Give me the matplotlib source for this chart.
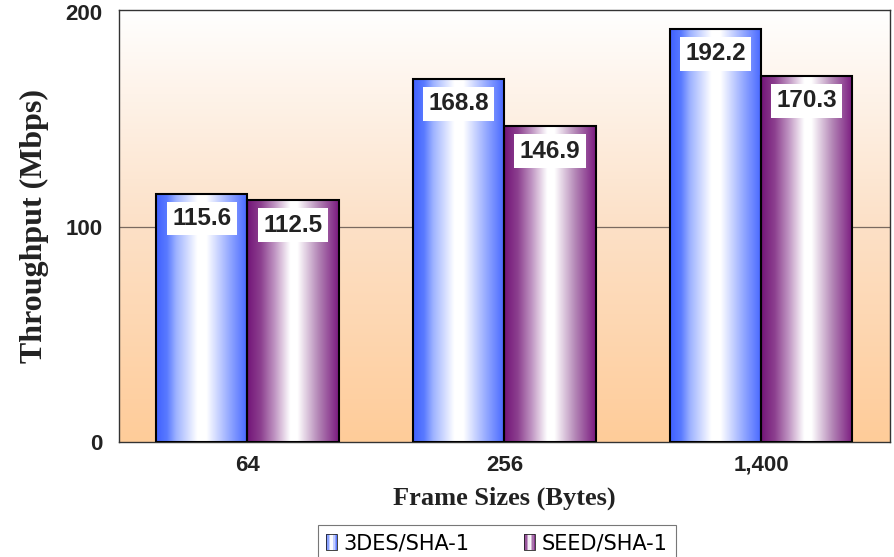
import numpy as np
import matplotlib
matplotlib.use("Agg")
import matplotlib.pyplot as plt
from matplotlib.patches import Rectangle
from matplotlib.legend_handler import HandlerBase
from matplotlib.colors import LinearSegmentedColormap

# --- data ---
frame_sizes = ["64", "256", "1,400"]
series_names = ["3DES/SHA-1", "SEED/SHA-1"]
tdes_sha1 = [115.6, 168.8, 192.2]
seed_sha1 = [112.5, 146.9, 170.3]

# --- gradients ---
blue_cmap = LinearSegmentedColormap.from_list("blue_tube", [
    (0.00, (0.25, 0.38, 1.00)),
    (0.12, (0.35, 0.48, 1.00)),
    (0.22, (0.62, 0.70, 1.00)),
    (0.45, (1.00, 1.00, 1.00)),
    (0.55, (1.00, 1.00, 1.00)),
    (0.80, (0.58, 0.66, 1.00)),
    (1.00, (0.27, 0.40, 1.00)),
])
purple_cmap = LinearSegmentedColormap.from_list("purple_tube", [
    (0.00, (0.45, 0.08, 0.47)),
    (0.15, (0.55, 0.25, 0.56)),
    (0.30, (0.75, 0.58, 0.76)),
    (0.47, (1.00, 1.00, 1.00)),
    (0.55, (1.00, 1.00, 1.00)),
    (0.78, (0.70, 0.52, 0.71)),
    (1.00, (0.48, 0.10, 0.50)),
])
bg_cmap = LinearSegmentedColormap.from_list("bg", [
    (0.0, (1.00, 0.80, 0.60)),
    (0.5, (0.99, 0.88, 0.78)),
    (1.0, (1.00, 1.00, 1.00)),
])
ramp = np.linspace(0, 1, 256).reshape(1, -1)


class GradientHandler(HandlerBase):
    def __init__(self, cmap):
        super().__init__()
        self.cmap = cmap

    def create_artists(self, legend, orig_handle, xdescent, ydescent,
                       width, height, fontsize, trans):
        n = 8
        w = width / n
        arts = []
        for i in range(n):
            r = Rectangle((-xdescent + i * w, -ydescent), w, height,
                          facecolor=self.cmap((i + 0.5) / n), edgecolor="none",
                          transform=trans)
            arts.append(r)
        arts.append(Rectangle((-xdescent, -ydescent), width, height,
                              facecolor="none", edgecolor="#222222", lw=0.6,
                              transform=trans))
        return arts


fig = plt.figure(figsize=(8.95, 5.57), dpi=100)
ax = fig.add_axes([0.133, 0.206, 0.861, 0.776])

x = np.arange(len(frame_sizes))
width = 0.355
ax.set_xlim(-0.5, len(frame_sizes) - 0.5)
ax.set_ylim(0, 201)

# background
ax.imshow(np.linspace(0, 1, 256).reshape(-1, 1), cmap=bg_cmap, origin="lower",
          extent=[-0.5, len(frame_sizes) - 0.5, 0, 201], aspect="auto", zorder=0)

ax.axhline(100, color="#7a6a60", lw=0.9, zorder=1)

bars_a = ax.bar(x - width / 2, tdes_sha1, width, facecolor="none",
                edgecolor="black", lw=1.5, zorder=3, label=series_names[0])
bars_b = ax.bar(x + width / 2, seed_sha1, width, facecolor="none",
                edgecolor="black", lw=1.5, zorder=3, label=series_names[1])

for bars, cmap in [(bars_a, blue_cmap), (bars_b, purple_cmap)]:
    for p in bars:
        x0, w, h = p.get_x(), p.get_width(), p.get_height()
        ax.imshow(ramp, cmap=cmap, extent=[x0, x0 + w, 0, h], aspect="auto",
                  zorder=2, interpolation="bilinear")
        ax.text(x0 + w / 2, h - 11.5, f"{h:.1f}", ha="center", va="center",
                fontsize=17.5, fontweight="bold", family="Liberation Sans",
                color="#222222", zorder=4,
                bbox=dict(boxstyle="square,pad=0.22", fc="white", ec="none"))

ax.set_xlim(-0.5, len(frame_sizes) - 0.5)
ax.set_ylim(0, 201)

ax.set_xticks(x)
ax.set_xticklabels(frame_sizes)
ax.set_xticks(np.concatenate([x - width / 2, x + width / 2]), minor=True)
ax.tick_params(axis="x", which="major", length=0, pad=9)
ax.tick_params(axis="x", which="minor", direction="in", length=3, color="#333333")
ax.set_yticks([0, 100, 200])
ax.tick_params(axis="y", length=0, pad=12)
for lbl in ax.get_xticklabels() + ax.get_yticklabels():
    lbl.set_fontfamily("Liberation Sans")
    lbl.set_fontweight("bold")
    lbl.set_fontsize(16)
    lbl.set_color("#222222")

for s in ax.spines.values():
    s.set_color("#333333")
    s.set_linewidth(1.0)

ax.set_ylabel("Throughput (Mbps)", family="Liberation Serif", fontweight="bold",
              fontsize=23, color="#222222", labelpad=12)
ax.set_xlabel("Frame Sizes (Bytes)", family="Liberation Serif", fontweight="bold",
              fontsize=19, color="#222222", labelpad=8)

leg = fig.legend(handles=[bars_a, bars_b], labels=series_names,
                 handler_map={bars_a: GradientHandler(blue_cmap),
                              bars_b: GradientHandler(purple_cmap)},
                 loc="center", bbox_to_anchor=(0.555, 0.024), ncol=2,
                 frameon=True, fancybox=False, handlelength=0.55, handleheight=0.8,
                 handletextpad=0.3, columnspacing=2.6, borderpad=0.4,
                 borderaxespad=0.0,
                 prop={"family": "DejaVu Sans", "size": 15})
leg.get_frame().set_edgecolor("#555555")
leg.get_frame().set_linewidth(0.8)

fig.savefig("out.png", dpi=100)
